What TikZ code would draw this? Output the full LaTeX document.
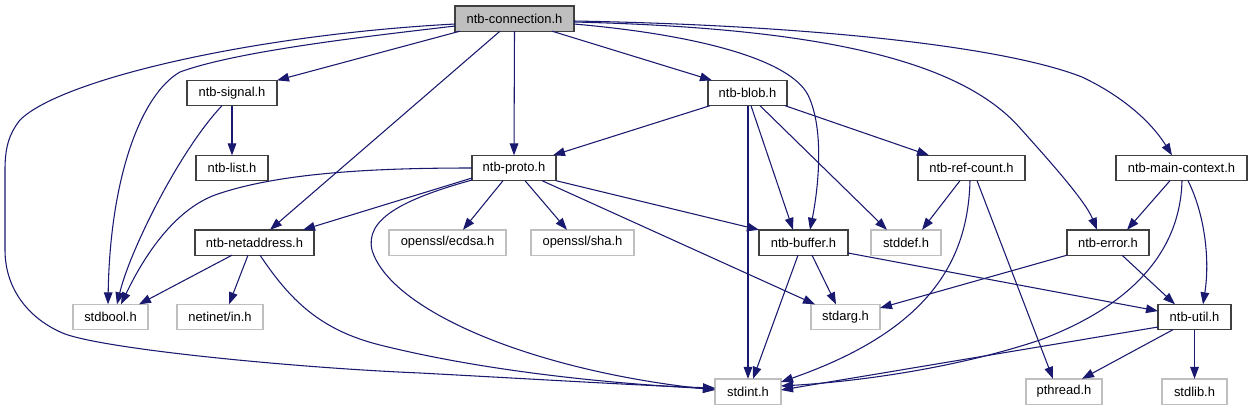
\documentclass[tikz,border=0pt]{standalone}
\usepackage{fontspec}
\setmainfont{Liberation Sans}
\usetikzlibrary{arrows.meta}
\definecolor{edgec}{RGB}{25,25,112}
\definecolor{lightb}{RGB}{191,191,191}
\definecolor{darkb}{RGB}{64,64,64}
\begin{document}
\begin{tikzpicture}[x=0.75pt,y=-0.75pt,
  box/.style={rectangle, inner sep=0pt, outer sep=0pt, minimum height=19pt, line width=1pt, font=\fontsize{9.7}{11}\selectfont},
  inc/.style={box, draw=darkb, fill=white},
  sys/.style={box, draw=lightb, fill=white},
  root/.style={box, draw=darkb, fill=lightb},
  edge/.style={draw=edgec, line width=0.8pt, -{Triangle[length=9pt,width=6.5pt]}}]
\useasboundingbox[fill=white] (0,0) rectangle (1252,411);

% nodes
\node[root, minimum width=89.25pt] (conn) at (514.5,18.5) {ntb-connection.h};
\node[inc, minimum width=67.5pt] (signal) at (232,93) {ntb-signal.h};
\node[inc, minimum width=54pt] (list) at (232,168) {ntb-list.h};
\node[inc, minimum width=59.25pt] (blob) at (747.5,93) {ntb-blob.h};
\node[inc, minimum width=63pt] (proto) at (514,168) {ntb-proto.h};
\node[inc, minimum width=80.25pt] (refcount) at (971.5,168) {ntb-ref-count.h};
\node[inc, minimum width=98.25pt] (mainctx) at (1181.5,168) {ntb-main-context.h};
\node[inc, minimum width=89.25pt] (netaddr) at (254.5,242.5) {ntb-netaddress.h};
\node[sys, minimum width=87.75pt] (ecdsa) at (447.5,242.5) {openssl/ecdsa.h};
\node[sys, minimum width=77.25pt] (sha) at (582.5,242.5) {openssl/sha.h};
\node[inc, minimum width=66.75pt] (buffer) at (803.5,242.5) {ntb-buffer.h};
\node[sys, minimum width=52.5pt] (stddef) at (906,242.5) {stddef.h};
\node[inc, minimum width=61.5pt] (error) at (1108,242.5) {ntb-error.h};
\node[sys, minimum width=56.25pt] (stdbool) at (110.5,317) {stdbool.h};
\node[sys, minimum width=64.5pt] (netinet) at (220,317) {netinet/in.h};
\node[sys, minimum width=51.75pt] (stdarg) at (845.5,317) {stdarg.h};
\node[inc, minimum width=54.75pt] (util) at (1194.5,317) {ntb-util.h};
\node[sys, minimum width=49.5pt] (stdint) at (748,391.5) {stdint.h};
\node[sys, minimum width=57pt] (pthread) at (1064,391.5) {pthread.h};
\node[sys, minimum width=48.75pt] (stdlib) at (1194.5,391.5) {stdlib.h};

% ntb-connection.h
\draw[edge] (conn.west |- 0,24) .. controls (250,35) and (60,80) .. (20,120) .. controls (8,135) and (5,150) .. (5,170) -- (5,250) .. controls (5,290) and (30,320) .. (65,334) .. controls (110,350) and (300,368) .. (420,373) .. controls (550,380) and (650,386) .. (stdint.west |- 0,388);
\draw[edge] (conn.west |- 0,26) .. controls (380,35) and (240,50) .. (180,72) .. controls (140,95) and (110,180) .. (108,0 |- stdbool.north);
\draw[edge] (460,0 |- conn.south) -- (signal.north east);
\draw[edge] (500,0 |- conn.south) -- (270,0 |- netaddr.north);
\draw[edge] (conn.south) -- (proto.north);
\draw[edge] (552,0 |- conn.south) -- (712,0 |- blob.north);
\draw[edge] (conn.east |- 0,24) .. controls (700,35) and (790,60) .. (808,95) .. controls (825,130) and (818,190) .. (810,0 |- buffer.north);
\draw[edge] (conn.east |- 0,22) .. controls (820,28) and (960,60) .. (1020,128) .. controls (1045,156) and (1085,200) .. (1097,0 |- error.north);
\draw[edge] (conn.east |- 0,21) .. controls (800,25) and (1000,45) .. (1082,77) .. controls (1120,95) and (1150,120) .. (1172,0 |- mainctx.north);

% ntb-signal.h
\draw[edge] (signal.south) -- (list.north);
\draw[edge] (222,0 |- signal.south) .. controls (180,150) and (130,250) .. (117,0 |- stdbool.north);

% ntb-blob.h
\draw[edge] (710,0 |- blob.south) -- (553,0 |- proto.north);
\draw[edge] (748,0 |- blob.south) -- (748,0 |- stdint.north);
\draw[edge] (751,0 |- blob.south) -- (793,0 |- buffer.north);
\draw[edge] (760,0 |- blob.south) -- (887,0 |- stddef.north);
\draw[edge] (785,0 |- blob.south) -- (929,0 |- refcount.north);

% ntb-proto.h
\draw[edge] (proto.west |- 0,168) .. controls (380,168) and (280,172) .. (215,195) .. controls (175,210) and (145,254) .. (121,0 |- stdbool.north);
\draw[edge] (proto.west |- 0,178) -- (303,0 |- netaddr.north);
\draw[edge] (proto.west |- 0,180) .. controls (400,200) and (365,220) .. (372,250) .. controls (390,310) and (530,370) .. (stdint.west |- 0,390);
\draw[edge] (503,0 |- proto.south) -- (463,0 |- ecdsa.north);
\draw[edge] (525,0 |- proto.south) -- (567,0 |- sha.north);
\draw[edge] (542,0 |- proto.south) -- (815,0 |- stdarg.north);
\draw[edge] (proto.south east) -- (buffer.north west);

% ntb-netaddress.h
\draw[edge] (232,0 |- netaddr.south) -- (139,0 |- stdbool.north);
\draw[edge] (248,0 |- netaddr.south) -- (229,0 |- netinet.north);
\draw[edge] (260,0 |- netaddr.south) .. controls (290,300) and (320,330) .. (380,345) .. controls (480,370) and (600,383) .. (stdint.west |- 0,389);

% ntb-buffer.h
\draw[edge] (798,0 |- buffer.south) -- (753,0 |- stdint.north);
\draw[edge] (812,0 |- buffer.south) -- (836,0 |- stdarg.north);
\draw[edge] (buffer.east |- 0,253) -- (util.west |- 0,311);

% ntb-ref-count.h
\draw[edge] (960,0 |- refcount.south) -- (922,0 |- stddef.north);
\draw[edge] (970,0 |- refcount.south) .. controls (968,260) and (930,330) .. (stdint.east |- 0,382);
\draw[edge] (977,0 |- refcount.south) -- (1053,0 |- pthread.north);

% ntb-main-context.h
\draw[edge] (1170,0 |- mainctx.south) -- (1127,0 |- error.north);
\draw[edge] (1188,0 |- mainctx.south) .. controls (1205,215) and (1210,260) .. (1203,0 |- util.north);
\draw[edge] (1182,0 |- mainctx.south) .. controls (1180,260) and (1120,310) .. (1040,340) .. controls (950,370) and (850,382) .. (stdint.east |- 0,386);

% ntb-error.h
\draw[edge] (error.south west) -- (stdarg.east |- 0,308);
\draw[edge] (1122,0 |- error.south) -- (1175,0 |- util.north);

% ntb-util.h
\draw[edge] (util.west |- 0,327) -- (stdint.east |- 0,390);
\draw[edge] (1173,0 |- util.south) -- (1082,0 |- pthread.north);
\draw[edge] (util.south) -- (stdlib.north);
\end{tikzpicture}
\end{document}
